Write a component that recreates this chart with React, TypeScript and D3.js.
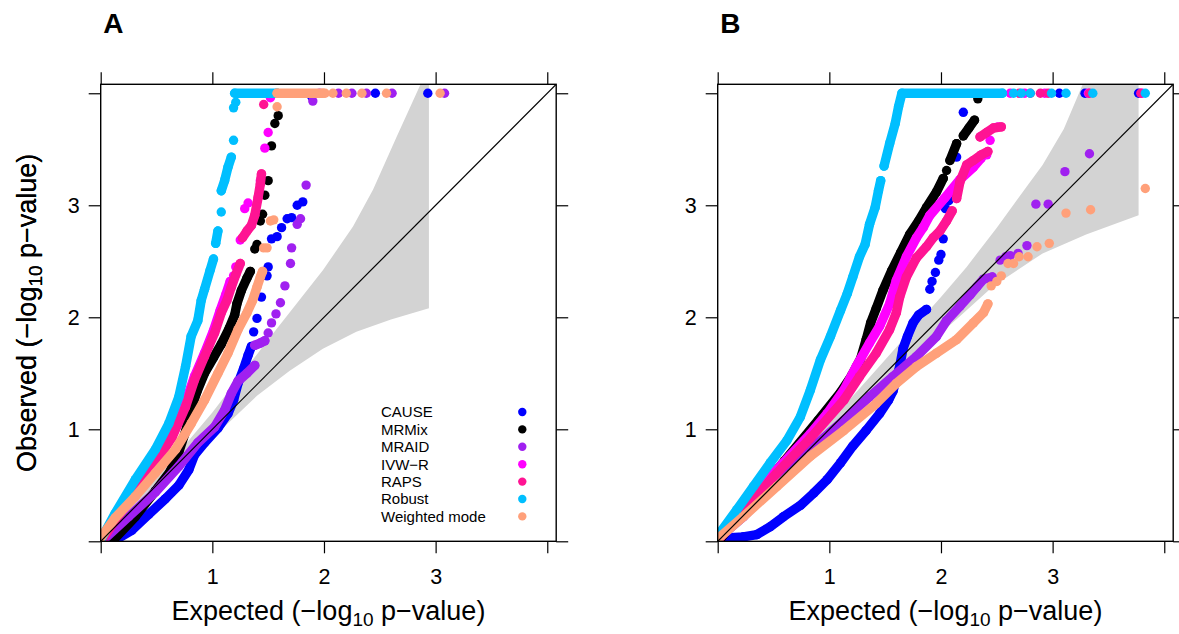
import React, { useEffect, useRef } from "react";
import * as d3 from "d3";

type Pt = [number, number];

// methods + colours (legend order, also drawing order)
const methods = ["CAUSE", "MRMix", "MRAID", "IVW−R", "RAPS", "Robust", "Weighted mode"];
const methodColors = ["#0000ff", "#000000", "#a020f0", "#ff00ff", "#ff1493", "#00bfff", "#ffa07a"];

const tickValues = [0, 1, 2, 3, 4];
const tickLabels = ["", "1", "2", "3", ""];
const panelLetters = ["A", "B"];

// ---- Panel A ----  (expected, observed); runs = dense stretches, dots = single points
const causeA_runs: Pt[][] = [[[0.13, 0.01], [0.28, 0.1], [0.43, 0.24], [0.58, 0.38], [0.7, 0.5], [0.79, 0.64], [0.84, 0.77], [0.93, 0.88], [1.05, 1.01], [1.14, 1.14], [1.19, 1.26], [1.23, 1.41], [1.28, 1.54], [1.32, 1.66], [1.35, 1.74]]];
const causeA_dots: Pt[] = [[1.37, 1.87], [1.4, 1.99], [1.44, 2.18], [1.46, 2.39], [1.49, 2.37], [1.5, 2.45], [1.53, 2.7], [1.58, 2.72], [1.62, 2.8], [1.67, 2.88], [1.71, 2.89], [1.76, 3.0], [1.81, 3.03], [1.89, 3.97], [2.46, 4], [2.93, 4]];

const mrmixA_runs: Pt[][] = [[[0.1, 0.0], [0.13, 0.03], [0.31, 0.22], [0.49, 0.45], [0.62, 0.62], [0.7, 0.8], [0.76, 0.98], [0.8, 1.15], [0.86, 1.33], [0.93, 1.5], [1.01, 1.64], [1.08, 1.76], [1.15, 1.9], [1.2, 2.02], [1.22, 2.12], [1.26, 2.24], [1.31, 2.35], [1.34, 2.41]]];
const mrmixA_dots: Pt[] = [[1.38, 2.61], [1.4, 2.65], [1.43, 2.86], [1.45, 2.92], [1.47, 3.09], [1.5, 3.22], [1.53, 3.53], [1.56, 3.73], [1.59, 3.8]];

const mraidA_runs: Pt[][] = [[[0.01, 0.0], [0.25, 0.22], [0.49, 0.44], [0.7, 0.67], [0.87, 0.88], [1.02, 1.02], [1.11, 1.17], [1.17, 1.32], [1.23, 1.43], [1.31, 1.5], [1.38, 1.57]], [[1.38, 1.75], [1.43, 1.77], [1.47, 1.79]]];
const mraidA_dots: Pt[] = [[1.5, 1.86], [1.53, 1.95], [1.57, 2.03], [1.61, 2.13], [1.65, 2.28], [1.7, 2.48], [1.71, 2.62], [1.76, 2.83], [1.79, 2.88], [1.84, 3.18], [1.9, 3.93], [1.96, 4], [2.13, 4], [2.25, 4], [2.38, 4], [2.61, 4], [3.08, 4]];

const ivwA_runs: Pt[][] = [[[0.02, 0.03], [0.13, 0.21], [0.31, 0.46], [0.49, 0.73], [0.64, 0.97], [0.76, 1.24], [0.84, 1.47], [0.93, 1.68], [1.01, 1.88], [1.07, 2.06], [1.12, 2.2], [1.16, 2.32]]];
const ivwA_dots: Pt[] = [[1.19, 2.37], [1.21, 2.45], [1.25, 2.69], [1.29, 2.97], [1.32, 3.02], [1.43, 3.22], [1.47, 3.51], [1.5, 3.65], [1.52, 3.96]];

const rapsA_runs: Pt[][] = [
  [[0.02, 0.02], [0.13, 0.19], [0.31, 0.43], [0.49, 0.7], [0.64, 0.93], [0.76, 1.2], [0.84, 1.44], [0.93, 1.65], [1.02, 1.86], [1.08, 2.04], [1.13, 2.15], [1.17, 2.27], [1.21, 2.38], [1.25, 2.48]],
  [[1.27, 2.71], [1.31, 2.77], [1.35, 2.82], [1.38, 2.91], [1.41, 3.07], [1.43, 3.19], [1.44, 3.28]],
];
const rapsA_dots: Pt[] = [[1.46, 3.9]];

const robustA_runs: Pt[][] = [
  [[0.0, 0.01], [0.13, 0.25], [0.31, 0.55], [0.49, 0.82], [0.61, 1.05], [0.7, 1.29], [0.76, 1.56], [0.81, 1.83], [0.87, 1.97], [0.9, 2.15], [0.93, 2.25], [0.98, 2.42], [1.01, 2.52]],
  [[1.03, 2.66], [1.05, 2.77]],
  [[1.08, 3.13], [1.11, 3.22], [1.14, 3.34], [1.17, 3.43]],
  [[1.2, 4], [1.58, 4]],
];
const robustA_dots: Pt[] = [[1.08, 2.94], [1.19, 3.58], [1.19, 3.87], [1.21, 3.92]];

const wmodeA_runs: Pt[][] = [
  [[0.0, 0.03], [0.13, 0.21], [0.31, 0.4], [0.49, 0.61], [0.67, 0.82], [0.81, 1.05], [0.93, 1.26], [1.05, 1.5], [1.14, 1.68], [1.23, 1.89], [1.31, 2.04], [1.36, 2.15], [1.4, 2.27], [1.43, 2.36], [1.45, 2.41]],
  [[1.58, 4], [1.99, 4]],
];
const wmodeA_dots: Pt[] = [[1.46, 2.62], [1.49, 2.62], [1.52, 2.86], [1.55, 2.87], [1.58, 3.88], [2.01, 4], [2.08, 4], [2.2, 4], [2.34, 4], [2.56, 4], [3.04, 4]];

// ---- Panel B ----
const causeB_runs: Pt[][] = [[[0.08, 0.03], [0.23, 0.04], [0.35, 0.06], [0.47, 0.13], [0.59, 0.22], [0.74, 0.32], [0.86, 0.43], [0.98, 0.55], [1.1, 0.7], [1.21, 0.85], [1.33, 0.99], [1.45, 1.14], [1.53, 1.26], [1.57, 1.34], [1.6, 1.45], [1.63, 1.56], [1.66, 1.72], [1.7, 1.83], [1.75, 1.95], [1.8, 2.02], [1.87, 2.07]]];
const causeB_dots: Pt[] = [[1.9, 2.25], [1.92, 2.32], [1.95, 2.4], [1.98, 2.51], [2.0, 2.56], [2.02, 2.7], [2.04, 2.97], [2.07, 3.04], [2.1, 3.1], [2.14, 3.43], [2.2, 3.83], [3.06, 4], [3.29, 4], [3.77, 4]];

const mrmixB_runs: Pt[][] = [[[0.03, 0.03], [0.3, 0.36], [0.6, 0.72], [0.9, 1.08], [1.1, 1.33], [1.2, 1.48], [1.28, 1.63], [1.33, 1.8], [1.37, 1.95], [1.42, 2.08], [1.48, 2.24], [1.56, 2.42], [1.64, 2.58], [1.72, 2.74], [1.8, 2.86], [1.87, 2.98], [1.96, 3.12], [2.02, 3.24]], [[2.08, 3.4], [2.14, 3.55]], [[2.2, 3.62], [2.25, 3.69], [2.3, 3.76]]];
const mrmixB_dots: Pt[] = [[2.05, 3.31], [2.33, 3.95]];

const mraidB_runs: Pt[][] = [[[0.01, 0.03], [0.23, 0.22], [0.53, 0.53], [0.83, 0.82], [1.13, 1.08], [1.36, 1.29], [1.57, 1.47], [1.78, 1.65], [1.96, 1.83], [2.05, 1.97], [2.17, 2.1], [2.26, 2.2], [2.32, 2.27], [2.38, 2.34], [2.46, 2.36]]];
const mraidB_dots: Pt[] = [[2.53, 2.51], [2.58, 2.54], [2.62, 2.55], [2.69, 2.57], [2.77, 2.64], [2.85, 3.01], [2.96, 3.01], [3.11, 3.3], [3.33, 3.46]];

const ivwB_runs: Pt[][] = [[[0.02, 0.04], [0.23, 0.31], [0.53, 0.64], [0.83, 0.96], [0.98, 1.14], [1.13, 1.35], [1.24, 1.56], [1.36, 1.77], [1.45, 1.92], [1.54, 2.12], [1.6, 2.33], [1.69, 2.54], [1.78, 2.71], [1.84, 2.8], [1.9, 2.91], [2.03, 3.06], [2.17, 3.23], [2.29, 3.34], [2.36, 3.42]]];
const ivwB_dots: Pt[] = [[2.41, 3.45], [2.44, 3.58], [2.51, 3.7], [2.62, 4], [2.75, 4], [2.93, 4], [3.32, 4], [3.8, 4]];

const rapsB_runs: Pt[][] = [
  [[0.02, 0.03], [0.23, 0.28], [0.53, 0.61], [0.83, 0.92], [1.13, 1.26], [1.27, 1.47], [1.42, 1.68], [1.54, 1.89], [1.6, 2.04], [1.63, 2.18], [1.69, 2.36], [1.78, 2.53], [1.87, 2.63], [1.93, 2.71], [1.99, 2.77], [2.05, 2.86], [2.1, 2.95]],
  [[2.14, 3.06], [2.17, 3.21], [2.23, 3.36], [2.29, 3.4], [2.36, 3.45], [2.42, 3.48]],
  [[2.35, 3.61], [2.41, 3.65], [2.47, 3.69], [2.54, 3.7]],
];
const rapsB_dots: Pt[] = [[2.7, 4], [2.8, 4], [2.89, 4], [2.96, 4], [3.33, 4], [3.79, 4]];

const robustB_runs: Pt[][] = [
  [[0.01, 0.06], [0.17, 0.28], [0.32, 0.49], [0.47, 0.7], [0.62, 0.9], [0.74, 1.11], [0.83, 1.35], [0.92, 1.62], [1.01, 1.83], [1.1, 2.06], [1.16, 2.21], [1.21, 2.36], [1.27, 2.54], [1.32, 2.65], [1.36, 2.83], [1.41, 2.98], [1.44, 3.13], [1.46, 3.22]],
  [[1.49, 3.35], [1.54, 3.55], [1.59, 3.73], [1.62, 3.88], [1.65, 4], [2.55, 4]],
];
const robustB_dots: Pt[] = [[2.65, 4], [2.72, 4], [2.8, 4], [2.99, 4], [3.12, 4], [3.36, 4], [3.83, 4]];

const wmodeB_runs: Pt[][] = [[[0.01, 0.03], [0.23, 0.22], [0.53, 0.49], [0.83, 0.76], [1.13, 0.99], [1.42, 1.23], [1.6, 1.41], [1.78, 1.56], [1.96, 1.68], [2.14, 1.8], [2.29, 1.95], [2.38, 2.04], [2.42, 2.12]]];
const wmodeB_dots: Pt[] = [[2.45, 2.28], [2.5, 2.32], [2.54, 2.37], [2.6, 2.48], [2.65, 2.48], [2.7, 2.54], [2.78, 2.54], [2.86, 2.63], [2.97, 2.66], [3.12, 2.93], [3.34, 2.96], [3.83, 3.15]];

// grey confidence bands (upper / lower edges)
const bandA_upper: Pt[] = [[0, 0], [0.5, 0.56], [1.0, 1.15], [1.5, 1.8], [1.99, 2.42], [2.26, 2.81], [2.44, 3.14], [2.65, 3.61], [2.86, 4.07], [2.94, 4.3]];
const bandA_lower: Pt[] = [[0, 0], [0.5, 0.46], [1.0, 0.92], [1.4, 1.3], [1.69, 1.52], [1.99, 1.72], [2.29, 1.87], [2.6, 1.98], [2.94, 2.08]];
const bandB_upper: Pt[] = [[0, 0], [0.5, 0.53], [1.0, 1.06], [1.5, 1.62], [2.0, 2.18], [2.23, 2.45], [2.5, 2.8], [2.77, 3.17], [2.91, 3.36], [3.1, 3.68], [3.27, 4.08], [3.77, 5.0]];
const bandB_lower: Pt[] = [[0, 0], [0.5, 0.47], [1.0, 0.95], [1.5, 1.42], [1.93, 1.8], [2.17, 2.01], [2.47, 2.28], [2.91, 2.57], [3.3, 2.74], [3.77, 2.91]];

const panelsRuns = [
  [causeA_runs, mrmixA_runs, mraidA_runs, ivwA_runs, rapsA_runs, robustA_runs, wmodeA_runs],
  [causeB_runs, mrmixB_runs, mraidB_runs, ivwB_runs, rapsB_runs, robustB_runs, wmodeB_runs],
];
const panelsDots = [
  [causeA_dots, mrmixA_dots, mraidA_dots, ivwA_dots, rapsA_dots, robustA_dots, wmodeA_dots],
  [causeB_dots, mrmixB_dots, mraidB_dots, ivwB_dots, rapsB_dots, robustB_dots, wmodeB_dots],
];
const panelsBand = [
  [bandA_upper, bandA_lower],
  [bandB_upper, bandB_lower],
];

const FONT = "'Liberation Sans', Arial, Helvetica, sans-serif";

const App = () => {
  const svgRef = useRef<SVGSVGElement>(null);

  useEffect(() => {
    const svg = d3.select(svgRef.current);
    svg.selectAll("*").remove();

    const width = 455.5;
    const height = 457;
    const top = 84.3;
    const lefts = [100.7, 717.7];
    const axisMax = 4.08;
    const r = 4.7;

    const x = d3.scaleLinear().domain([0, axisMax]).range([0, width]);
    const y = d3.scaleLinear().domain([0, axisMax]).range([height, 0]);
    const line = d3.line<Pt>().x((d) => x(d[0])).y((d) => y(d[1]));

    lefts.forEach((left, pi) => {
      const g = svg.append("g").attr("transform", `translate(${left},${top})`);

      g.append("clipPath")
        .attr("id", `clip${pi}`)
        .append("rect")
        .attr("width", width)
        .attr("height", height);
      const inner = g.append("g").attr("clip-path", `url(#clip${pi})`);

      // confidence band
      const [upper, lower] = panelsBand[pi];
      inner.append("path")
        .attr("d", line([...upper, ...lower.slice().reverse()]) + "Z")
        .attr("fill", "#d3d3d3");

      // points, in legend order
      methods.forEach((m, si) => {
        const color = methodColors[si];
        const runs = panelsRuns[pi][si];
        const dots = panelsDots[pi][si];
        const sg = inner.append("g").attr("class", `series-${si}`);
        sg.selectAll("path")
          .data(runs)
          .join("path")
          .attr("d", (d) => line(d))
          .attr("fill", "none")
          .attr("stroke", color)
          .attr("stroke-width", 2 * r)
          .attr("stroke-linecap", "round")
          .attr("stroke-linejoin", "round");
        sg.selectAll("circle")
          .data([...runs.flat(), ...dots])
          .join("circle")
          .attr("cx", (d) => x(d[0]))
          .attr("cy", (d) => y(d[1]))
          .attr("r", r)
          .attr("fill", color);
      });

      // y = x reference line
      inner.append("line")
        .attr("x1", x(0)).attr("y1", y(0))
        .attr("x2", x(axisMax)).attr("y2", y(axisMax))
        .attr("stroke", "#000")
        .attr("stroke-width", 1.2);

      // axes on all four sides
      const tickFmt = (_d: any, i: number) => tickLabels[i];
      const styleAxis = (a: any) => {
        a.select(".domain").remove();
        a.selectAll("line").attr("stroke", "#000").attr("stroke-width", 1.2);
        a.selectAll("text").attr("font-size", 21.5).attr("font-family", FONT).attr("fill", "#000");
      };
      g.append("g").attr("transform", `translate(0,${height})`)
        .call(d3.axisBottom(x).tickValues(tickValues).tickFormat(tickFmt as any).tickSize(12).tickPadding(15))
        .call(styleAxis);
      g.append("g")
        .call(d3.axisLeft(y).tickValues(tickValues).tickFormat(tickFmt as any).tickSize(12).tickPadding(9))
        .call(styleAxis);
      g.append("g")
        .call(d3.axisTop(x).tickValues(tickValues).tickFormat(() => "").tickSize(12))
        .call(styleAxis);
      g.append("g").attr("transform", `translate(${width},0)`)
        .call(d3.axisRight(y).tickValues(tickValues).tickFormat(() => "").tickSize(12))
        .call(styleAxis);

      // panel box
      g.append("rect")
        .attr("width", width)
        .attr("height", height)
        .attr("fill", "none")
        .attr("stroke", "#000")
        .attr("stroke-width", 1.4);

      // axis titles
      const xt = g.append("text")
        .attr("x", width / 2)
        .attr("y", 535 - top + 85)
        .attr("text-anchor", "middle")
        .attr("font-family", FONT)
        .attr("font-size", 27);
      xt.append("tspan").text("Expected (−log");
      xt.append("tspan").attr("font-size", 19).attr("dy", 6).text("10");
      xt.append("tspan").attr("dy", -6).text(" p−value)");

      const yt = g.append("text")
        .attr("transform", `translate(${36 - left},${height / 2}) rotate(-90)`)
        .attr("text-anchor", "middle")
        .attr("font-family", FONT)
        .attr("font-size", 27);
      yt.append("tspan").text("Observed (−log");
      yt.append("tspan").attr("font-size", 19).attr("dy", 6).text("10");
      yt.append("tspan").attr("dy", -6).text(" p−value)");

      // panel letter
      g.append("text")
        .attr("x", 2.5)
        .attr("y", 33 - top)
        .attr("font-family", FONT)
        .attr("font-weight", "bold")
        .attr("font-size", 28)
        .text(panelLetters[pi]);

      // legend (panel A only)
      if (pi === 0) {
        const lg = g.append("g").attr("transform", `translate(${381 - left},${412 - top})`);
        const rows = lg.selectAll("g")
          .data(methods)
          .join("g")
          .attr("transform", (_d, i) => `translate(0,${i * 17.4})`);
        rows.append("text")
          .attr("x", 0)
          .attr("y", 5.3)
          .attr("font-family", FONT)
          .attr("font-size", 15)
          .text((d) => d);
        rows.append("circle")
          .attr("cx", 141.3)
          .attr("cy", 0)
          .attr("r", 4.2)
          .attr("fill", (_d, i) => methodColors[i]);
      }
    });
  }, []);

  return (
    <svg
      ref={svgRef}
      width={1179}
      height={634}
      style={{ position: "absolute", left: 0, top: 0, background: "#fff" }}
    />
  );
};

export default App;
